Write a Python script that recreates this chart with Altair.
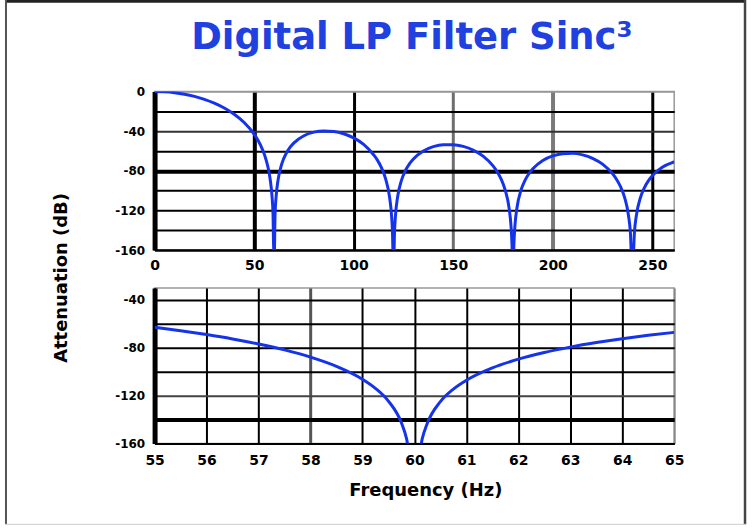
import altair as alt
import pandas as pd

# Sinc^3 low-pass filter: attenuation over 0-261 Hz (dB)
wide_freq = [0, 5, 10, 15, 20, 25, 30, 35, 40, 45, 50, 52, 54, 56, 58, 59, 59.5, 59.9,
             60.1, 60.5, 61, 62, 64, 66, 68, 70, 75, 80, 85, 90, 95, 100, 105, 110, 112,
             114, 116, 118, 119, 119.5, 119.8, 120.2, 120.5, 121, 122, 124, 126, 128, 130,
             135, 140, 145, 150, 155, 160, 165, 170, 172, 174, 176, 178, 179, 179.5, 179.7,
             180.3, 180.5, 181, 182, 184, 186, 188, 190, 195, 200, 205, 210, 215, 220, 225,
             230, 232, 234, 236, 238, 239, 239.6, 240.4, 241, 242, 244, 246, 248, 250, 255,
             260, 261]
wide_db = [0, -0.30, -1.20, -2.74, -4.95, -7.92, -11.77, -16.69, -23.01, -31.36, -43.14,
           -49.54, -57.68, -68.96, -87.79, -106.26, -124.54, -166.6,
           -166.7, -124.97, -107.13, -89.53, -72.44, -62.91, -56.53, -51.91, -44.67, -41.07,
           -39.81, -40.39, -42.71, -46.89, -53.44, -63.87, -69.53,
           -77.16, -87.93, -106.30, -124.54, -142.71, -166.6, -166.7, -142.93, -124.98,
           -107.17, -89.67, -79.76, -73.01, -68.04,
           -59.99, -55.66, -53.72, -53.70, -55.46, -59.14, -65.22, -75.03, -80.71, -88.17,
           -98.80, -117.01, -135.18, -153.31, -166.7,
           -166.8, -153.45, -135.47, -117.59, -99.96, -89.91, -83.03, -77.93, -69.57, -64.95,
           -62.75, -62.47, -63.99, -67.43, -73.30,
           -82.91, -88.51, -95.89, -106.44, -124.58, -142.71, -166.6, -166.7, -142.93,
           -125.01, -107.31, -97.20, -90.25, -85.08, -76.56,
           -71.79, -71.15]

# Close-up of the first notch, 55-65 Hz (dB)
zoom_freq = [55, 55.5, 56, 56.5, 57, 57.5, 58, 58.5, 59, 59.25, 59.5, 59.75, 59.85, 59.9,
             60.1, 60.15, 60.25, 60.5, 60.75, 61, 61.5, 62, 62.5, 63, 63.5, 64, 64.5, 65]
zoom_db = [-62.78, -65.71, -68.96, -72.62, -76.83, -81.78, -87.79, -95.49, -106.26, -113.86,
           -124.54, -142.70, -156.06, -166.6,
           -166.73, -156.19, -142.92, -124.97, -114.51, -107.13, -96.79, -89.53, -83.95,
           -79.44, -75.67, -72.44, -69.62, -67.13]

wide_ticks_x = [0, 50, 100, 150, 200, 250]
wide_ticks_y = [0, -20, -40, -60, -80, -100, -120, -140, -160]
zoom_ticks_x = [55, 56, 57, 58, 59, 60, 61, 62, 63, 64, 65]
zoom_ticks_y = [-40, -60, -80, -100, -120, -140, -160]

TITLE = "Digital LP Filter Sinc³"
Y_TITLE = "Attenuation (dB)"
X_TITLE = "Frequency (Hz)"

FONT = "DejaVu Sans"
CURVE = "#1533ea"
TITLE_BLUE = "#2040e0"
LABEL_EXPR = "datum.value % 40 == 0 ? '' + datum.value : ''"


def cond(rules, default):
    """Per-tick axis property: list of (test, value) pairs with a fallback."""
    return {"condition": [{"test": t, "value": v} for t, v in rules], "value": default}


def axis(values, pad, size, **kw):
    return alt.Axis(values=values, title=None, ticks=False, grid=True,
                    labelFont=FONT, labelFontWeight="bold", labelFontSize=size,
                    labelColor="black", labelPadding=pad, labelOverlap=False,
                    labelFlush=False, domainColor="black", **kw)


# ---- overview panel -------------------------------------------------------
wide = pd.DataFrame({"f": wide_freq, "db": wide_db})

x_wide = alt.X("f:Q", scale=alt.Scale(domain=[0, 261], nice=False, zero=False),
               axis=axis(wide_ticks_x, 9, 14, domainWidth=2,
                         gridWidth=cond([("datum.value == 50", 4), ("datum.value == 200", 4)], 3),
                         gridColor=cond([("datum.value == 150", "#6e6e6e"),
                                         ("datum.value == 200", "#7a7a7a")], "black")))
y_wide = alt.Y("db:Q", scale=alt.Scale(domain=[-160, 0], nice=False),
               axis=axis(wide_ticks_y, 10, 12, domainWidth=5, labelExpr=LABEL_EXPR,
                         gridWidth=cond([("datum.value == -80", 4), ("datum.value == 0", 1.5)], 2),
                         gridColor=cond([("datum.value == 0", "#999999"),
                                         ("datum.value == -40", "#333333")], "black")))

wide_line = alt.Chart(wide).mark_line(
    color=CURVE, strokeWidth=3, clip=True, interpolate="monotone"
).encode(x=x_wide, y=y_wide)

title_text = alt.Chart(pd.DataFrame({"label": [TITLE]})).mark_text(
    font=FONT, fontSize=37, fontWeight="bold", color=TITLE_BLUE,
    align="center", baseline="alphabetic"
).encode(text="label:N", x=alt.value(258), y=alt.value(-43))

y_title_text = alt.Chart(pd.DataFrame({"label": [Y_TITLE]})).mark_text(
    font=FONT, fontSize=18, fontWeight="bold", color="black",
    align="center", baseline="middle", angle=270
).encode(text="label:N", x=alt.value(-93), y=alt.value(187))

# picture frame around the whole figure
one = pd.DataFrame({"k": [0]})
frame_top = alt.Chart(one).mark_rule(color="#222222", strokeWidth=4).encode(
    x=alt.value(-150), x2=alt.value(593), y=alt.value(-91))
frame_left = alt.Chart(one).mark_rule(color="#555555", strokeWidth=2).encode(
    x=alt.value(-149), y=alt.value(-93), y2=alt.value(434))
frame_right = alt.Chart(one).mark_rule(color="#444444", strokeWidth=2.5).encode(
    x=alt.value(592), y=alt.value(-93), y2=alt.value(434))
frame_bottom = alt.Chart(one).mark_rule(color="#cccccc", strokeWidth=1).encode(
    x=alt.value(-150), x2=alt.value(593), y=alt.value(434))

upper = alt.layer(
    wide_line, title_text, y_title_text, frame_top, frame_left, frame_right, frame_bottom
).properties(width=521, height=159)

# ---- close-up panel -------------------------------------------------------
zoom = pd.DataFrame({"f": zoom_freq, "db": zoom_db})

x_zoom = alt.X("f:Q", scale=alt.Scale(domain=[55, 65], nice=False, zero=False),
               axis=axis(zoom_ticks_x, 10, 14, domainWidth=2,
                         gridWidth=cond([("datum.value == 58", 3)], 2),
                         gridColor=cond([("datum.value == 58", "#555555"),
                                         ("datum.value == 65", "#888888")], "black")))
y_zoom = alt.Y("db:Q", scale=alt.Scale(domain=[-160, -30], nice=False),
               axis=axis(zoom_ticks_y, 10, 12, domainWidth=5, labelExpr=LABEL_EXPR,
                         gridWidth=cond([("datum.value == -140", 4)], 2),
                         gridColor=cond([("datum.value == -120", "#444444")], "black")))

zoom_line = alt.Chart(zoom).mark_line(
    color=CURVE, strokeWidth=3, clip=True, interpolate="monotone"
).encode(x=x_zoom, y=y_zoom)

x_title_text = alt.Chart(pd.DataFrame({"label": [X_TITLE]})).mark_text(
    font=FONT, fontSize=18, fontWeight="bold", color="black",
    align="center", baseline="alphabetic"
).encode(text="label:N", x=alt.value(272), y=alt.value(209))

lower = alt.layer(zoom_line, x_title_text).properties(width=521, height=156)

chart = alt.vconcat(
    upper, lower, spacing=38, bounds="flush",
    padding={"left": 2, "top": -4, "right": 3, "bottom": 0},
    background="white",
).configure_view(stroke="#999999", strokeWidth=1.5)

chart.save("out.html", embed_options={"renderer": "svg", "actions": False})
